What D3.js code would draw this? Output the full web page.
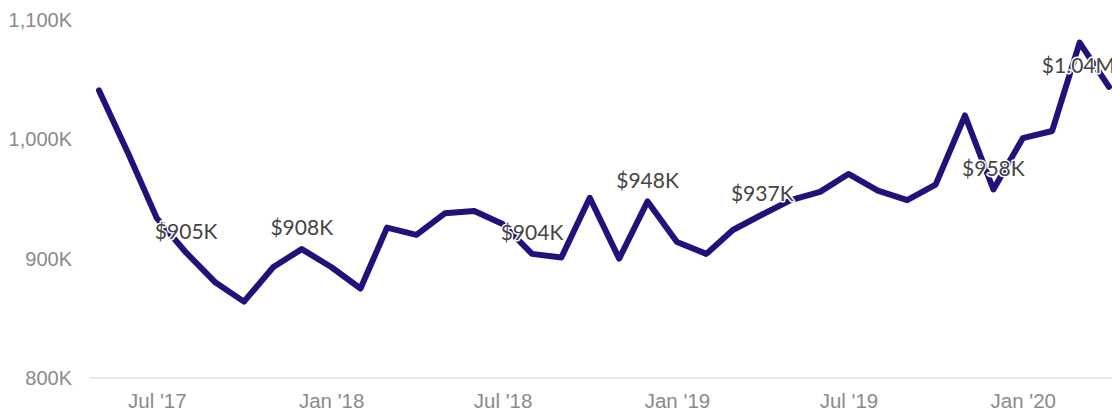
<!DOCTYPE html>
<html>
<head>
<meta charset="utf-8">
<script src="https://cdn.jsdelivr.net/npm/d3@7"></script>
<style>
  body { margin: 0; background: #fff; }
  svg { display: block; font-family: Lato, sans-serif; }
  .axis text { fill: #8a8a8a; font-size: 20px; }
  .x.axis text { font-size: 20.5px; }
  .value-label { fill: #444; font-size: 21px; paint-order: stroke; stroke: #fff; stroke-width: 3px; stroke-linejoin: round; }
</style>
</head>
<body>
<div class="line-chart-container"></div>
<script>
// monthly values, in thousands of dollars
const months = ["2017-05","2017-06","2017-07","2017-08","2017-09","2017-10","2017-11","2017-12",
  "2018-01","2018-02","2018-03","2018-04","2018-05","2018-06","2018-07","2018-08","2018-09","2018-10","2018-11","2018-12",
  "2019-01","2019-02","2019-03","2019-04","2019-05","2019-06","2019-07","2019-08","2019-09","2019-10","2019-11","2019-12",
  "2020-01","2020-02","2020-03","2020-04"];
const values = [1041, 988, 934, 905, 880, 864, 893, 908,
  893, 875, 926, 920, 938, 940, 929, 904, 901, 951, 900, 948,
  914, 904, 924, 937, 949, 956, 971, 957, 949, 962, 1020, 958,
  1001, 1007, 1081, 1044];

const labelMonths = ["2017-08","2017-12","2018-08","2018-12","2019-04","2019-12","2020-04"];
const labelTexts = ["$905K","$908K","$904K","$948K","$937K","$958K","$1.04M"];

const yTicks = [800, 900, 1000, 1100];
const xTicks = ["2017-07","2018-01","2018-07","2019-01","2019-07","2020-01"];

const parseMonth = d3.timeParse("%Y-%m");
const data = months.map((m, i) => ({date: parseMonth(m), value: values[i]}));

const svg_width = 1112, svg_height = 417;
const chart_margin = {top: 20, right: 3, bottom: 39, left: 99};

const svg = d3.select('.line-chart-container').append('svg')
  .attr('width', svg_width).attr('height', svg_height);

const xScale = d3.scaleTime()
  .domain(d3.extent(data, d => d.date))
  .range([chart_margin.left, svg_width - chart_margin.right]);

const yScale = d3.scaleLinear()
  .domain([800, 1100])
  .range([svg_height - chart_margin.bottom, chart_margin.top]);

// baseline
svg.append('line')
  .attr('x1', 89).attr('x2', svg_width)
  .attr('y1', yScale(800)).attr('y2', yScale(800))
  .attr('stroke', '#e8e8e8').attr('stroke-width', 2);

// y axis
const yAxis = d3.axisLeft(yScale)
  .tickValues(yTicks)
  .tickFormat(d => d3.format(',')(d) + 'K')
  .tickSize(0).tickPadding(0);
const yAxisDraw = svg.append('g')
  .attr('class', 'y axis')
  .attr('transform', 'translate(72,0)')
  .call(yAxis);
yAxisDraw.select('.domain').remove();

// x axis
const xAxis = d3.axisBottom(xScale)
  .tickValues(xTicks.map(parseMonth))
  .tickFormat(d3.timeFormat("%b '%y"))
  .tickSize(0).tickPadding(0);
const xAxisDraw = svg.append('g')
  .attr('class', 'x axis')
  .attr('transform', `translate(0,${yScale(800) + 15})`)
  .call(xAxis);
xAxisDraw.select('.domain').remove();
xAxisDraw.selectAll('text').attr('dy', '0.71em');

// line
const line = d3.line()
  .x(d => xScale(d.date))
  .y(d => yScale(d.value));

svg.append('path')
  .datum(data)
  .attr('fill', 'none')
  .attr('stroke', '#24107a')
  .attr('stroke-width', 6)
  .attr('stroke-linejoin', 'round')
  .attr('stroke-linecap', 'round')
  .attr('d', line);

// value labels
const labels = labelMonths.map((m, i) => {
  const p = data.find(d => d3.timeFormat('%Y-%m')(d.date) === m);
  return {date: p.date, value: p.value, text: labelTexts[i]};
});

svg.selectAll('.value-label')
  .data(labels)
  .enter()
  .append('text')
  .attr('class', 'value-label')
  .attr('text-anchor', 'middle')
  .attr('x', d => xScale(d.date))
  .attr('y', d => yScale(d.value) - 21)
  .attr('dy', '0.35em')
  .text(d => d.text)
  .each(function() {
    // keep labels near the right edge from running far past it
    const len = this.getComputedTextLength();
    const x = +d3.select(this).attr('x');
    const maxX = svg_width - len / 2 + 3;
    if (x > maxX) d3.select(this).attr('x', maxX);
  });
</script>
</body>
</html>
